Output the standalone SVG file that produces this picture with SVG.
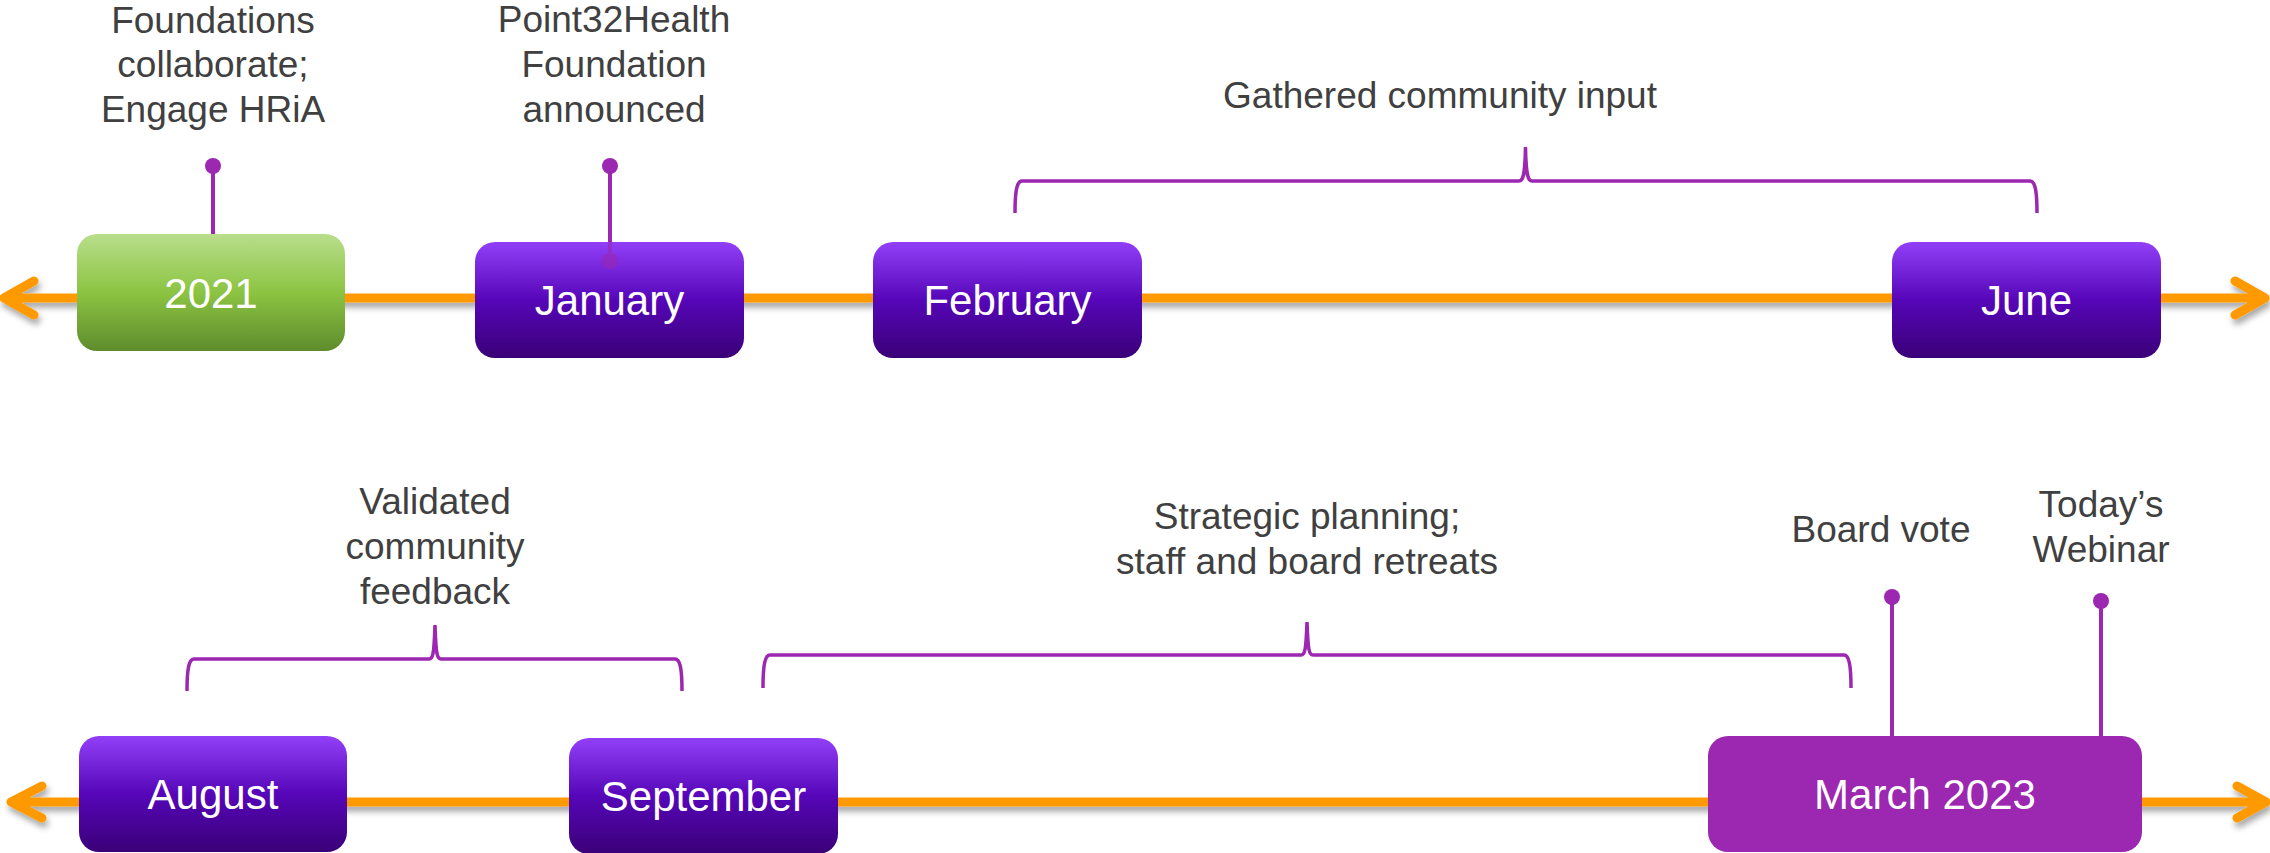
<svg xmlns="http://www.w3.org/2000/svg" width="2270" height="853" viewBox="0 0 2270 853">
<style>
.lbl{font-family:"Liberation Sans",Arial,sans-serif;font-size:37px;fill:#404040;text-anchor:middle}
.bt{font-family:"Liberation Sans",Arial,sans-serif;font-size:42px;fill:#ffffff;text-anchor:middle}
.tl{fill:none;stroke:#FF9900;stroke-width:9;stroke-linecap:round;stroke-linejoin:round}
.br{fill:none;stroke:#9C27B0;stroke-width:3.5}
.pin{stroke:#9C27B0;stroke-width:4;fill:none}
.dot{fill:#9C27B0}
.pb{fill:url(#gp)}
</style>
<defs>
<linearGradient id="gp" x1="0" y1="0" x2="0" y2="1">
<stop offset="0" stop-color="#9240F8"/>
<stop offset="0.5" stop-color="#5606B8"/>
<stop offset="1" stop-color="#3A0077"/>
</linearGradient>
<linearGradient id="gg" x1="0" y1="0" x2="0" y2="1">
<stop offset="0" stop-color="#B9DE8C"/>
<stop offset="0.5" stop-color="#8CC442"/>
<stop offset="1" stop-color="#5E8C2C"/>
</linearGradient>
<filter id="sh" x="-5%" y="-50%" width="110%" height="250%">
<feDropShadow dx="2" dy="5" stdDeviation="3" flood-color="#000" flood-opacity="0.35"/>
</filter>
</defs>
<rect width="2270" height="853" fill="#ffffff"/>
<g id="connectors">
<g filter="url(#sh)">
<path class="tl" d="M4,298 L2265,298 M34,281 L4,298 L34,315 M2235,281 L2265,298 L2235,315"/>
<path class="tl" d="M11,802 L2266,802 M42,786 L11,802 L42,818 M2237,786 L2266,802 L2237,818"/>
</g>
<path class="br" d="M1015,213 C1015,190 1017,181 1022,181 L1519,181 C1523,181 1525,176 1525.5,147 C1526,176 1528,181 1532,181 L2030,181 C2035,181 2037,190 2037,213"/>
<path class="br" d="M187,691 C187,668 189,659 194,659 L429,659 C433,659 434,654 435,625 C436,654 437,659 441,659 L675,659 C680,659 682,668 682,691"/>
<path class="br" d="M763,688 C763,665 765,655 770,655 L1301,655 C1305,655 1306,650 1307,622 C1308,650 1309,655 1313,655 L1844,655 C1849,655 1851,665 1851,688"/>
<line class="pin" x1="213" y1="166" x2="213" y2="234"/>
<circle class="dot" cx="213" cy="166" r="8"/>
<line class="pin" x1="1892" y1="597" x2="1892" y2="736"/>
<circle class="dot" cx="1892" cy="597" r="8"/>
<line class="pin" x1="2101" y1="601" x2="2101" y2="736"/>
<circle class="dot" cx="2101" cy="601" r="8"/>
</g>
<g id="n2021"><rect x="77" y="234" width="268" height="117" rx="20" fill="url(#gg)"/><text class="bt" x="211" y="308">2021</text></g>
<g id="nJanuary"><rect class="pb" x="475" y="242" width="269" height="116" rx="20"/><text class="bt" x="609.5" y="315">January</text></g>
<g id="nFebruary"><rect class="pb" x="873" y="242" width="269" height="116" rx="20"/><text class="bt" x="1007.5" y="315">February</text></g>
<g id="nJune"><rect class="pb" x="1892" y="242" width="269" height="116" rx="20"/><text class="bt" x="2026.5" y="315">June</text></g>
<g id="nAugust"><rect class="pb" x="79" y="736" width="268" height="116" rx="20"/><text class="bt" x="213" y="809">August</text></g>
<g id="nSeptember"><rect class="pb" x="569" y="738" width="269" height="116" rx="20"/><text class="bt" x="703.5" y="811">September</text></g>
<g id="nMarch2023"><rect x="1708" y="736" width="434" height="116" rx="20" fill="#9C27B0"/><text class="bt" x="1925" y="809">March 2023</text></g>
<g id="pinJanuary">
<line class="pin" x1="610" y1="166" x2="610" y2="242"/>
<circle class="dot" cx="610" cy="166" r="8"/>
<g opacity="0.6"><line class="pin" x1="610" y1="242" x2="610" y2="261"/><circle class="dot" cx="610" cy="261" r="8"/></g>
</g>
<g id="lblFoundations"><text class="lbl" x="213"><tspan x="213" y="33">Foundations</tspan><tspan x="213" y="77">collaborate;</tspan><tspan x="213" y="122">Engage HRiA</tspan></text></g>
<g id="lblPoint32"><text class="lbl" x="614"><tspan x="614" y="32">Point32Health</tspan><tspan x="614" y="77">Foundation</tspan><tspan x="614" y="122">announced</tspan></text></g>
<g id="lblGathered"><text class="lbl" x="1440" y="108">Gathered community input</text></g>
<g id="lblValidated"><text class="lbl" x="435"><tspan x="435" y="514">Validated</tspan><tspan x="435" y="559">community</tspan><tspan x="435" y="604">feedback</tspan></text></g>
<g id="lblStrategic"><text class="lbl" x="1307"><tspan x="1307" y="529">Strategic planning;</tspan><tspan x="1307" y="574">staff and board retreats</tspan></text></g>
<g id="lblBoardVote"><text class="lbl" x="1881" y="542">Board vote</text></g>
<g id="lblWebinar"><text class="lbl" x="2101"><tspan x="2101" y="517">Today’s</tspan><tspan x="2101" y="562">Webinar</tspan></text></g>
</svg>
